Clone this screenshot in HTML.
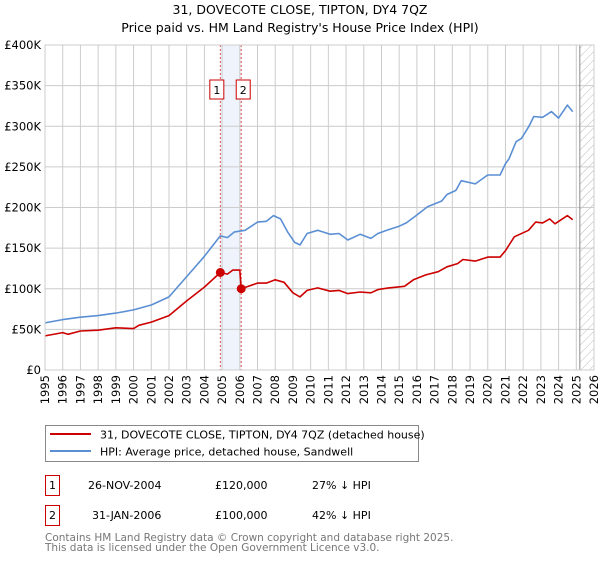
<!DOCTYPE html>
<html><head><meta charset="utf-8"><style>
body{margin:0;background:#fff;font-family:"DejaVu Sans","Liberation Sans",sans-serif}
svg text{font-family:"DejaVu Sans","Liberation Sans",sans-serif}
</style></head><body>
<svg id="chart" width="600" height="560" viewBox="0 0 600 560" xmlns="http://www.w3.org/2000/svg">
<defs><pattern id="hatch" width="6" height="6" patternUnits="userSpaceOnUse" patternTransform="rotate(45)"><line x1="0" y1="0" x2="0" y2="6" stroke="#bbb" stroke-width="1"/></pattern></defs>
<text x="300" y="14" text-anchor="middle" font-size="12.5" fill="#000">31, DOVECOTE CLOSE, TIPTON, DY4 7QZ</text>
<text x="300" y="32" text-anchor="middle" font-size="12.5" fill="#000">Price paid vs. HM Land Registry's House Price Index (HPI)</text>
<g id="grid"></g>
<g id="marks"></g>
<g id="axes"></g>
<g>
<rect x="45.5" y="425.5" width="373" height="36" fill="#fff" stroke="#888"/>
<line x1="50" y1="434" x2="91" y2="434" stroke="#cc0000" stroke-width="2"/>
<text x="100" y="438.5" font-size="11">31, DOVECOTE CLOSE, TIPTON, DY4 7QZ (detached house)</text>
<line x1="50" y1="451" x2="91" y2="451" stroke="#5b8fd4" stroke-width="2"/>
<text x="100" y="455.5" font-size="11">HPI: Average price, detached house, Sandwell</text>
</g>
<g>
<rect x="45.5" y="475.5" width="14" height="20" fill="#fff" stroke="#cc0000"/>
<text x="52.5" y="489" text-anchor="middle" font-size="11">1</text>
<text x="88" y="489" font-size="11">26-NOV-2004</text>
<text x="215" y="489" font-size="11">£120,000</text>
<text x="312" y="489" font-size="11">27% ↓ HPI</text>
<rect x="45.5" y="505.5" width="14" height="20" fill="#fff" stroke="#cc0000"/>
<text x="52.5" y="519" text-anchor="middle" font-size="11">2</text>
<text x="92" y="519" font-size="11">31-JAN-2006</text>
<text x="215" y="519" font-size="11">£100,000</text>
<text x="312" y="519" font-size="11">42% ↓ HPI</text>
</g>
<text x="45" y="541" font-size="10.5" fill="#777">Contains HM Land Registry data © Crown copyright and database right 2025.</text>
<text x="45" y="551" font-size="10.5" fill="#777">This data is licensed under the Open Government Licence v3.0.</text>
</svg>
<script>
const hpiYears=[1995,1996,1997,1998,1999,2000,2001,2002,2003,2004,2004.9,2005.3,2005.7,2006.3,2007,2007.5,2007.9,2008.3,2008.7,2009.1,2009.4,2009.8,2010.4,2011.1,2011.6,2012.1,2012.8,2013.4,2013.8,2014.3,2015,2015.4,2015.9,2016.6,2017.4,2017.7,2018.2,2018.5,2019.3,2020,2020.7,2021,2021.2,2021.6,2021.9,2022.3,2022.6,2023.1,2023.6,2024,2024.5,2024.8];
const hpiValues=[58,62,65,67,70,74,80,90,115,140,165,163,170,172,182,183,190,186,170,157,154,168,172,167,168,160,167,162,168,172,177,181,189,201,208,216,221,233,229,240,240,254,260,281,285,299,312,311,318,310,326,318];
const priceYears=[1995,1996,1996.3,1997,1998,1999,2000,2000.3,2001,2002,2003,2004,2004.9,2005.3,2005.6,2006.0,2006.08,2007,2007.5,2008,2008.5,2009,2009.4,2009.8,2010.4,2011.1,2011.6,2012.1,2012.8,2013.4,2013.8,2014.4,2015.3,2015.8,2016.5,2017.2,2017.7,2018.3,2018.6,2019.3,2020,2020.7,2021,2021.5,2022.3,2022.7,2023.1,2023.5,2023.8,2024.5,2024.8];
const priceValues=[42,46,44,48,49,52,51,55,59,67,85,102,120,118,123,123,100,107,107,111,108,95,90,98,101,97,98,94,96,95,99,101,103,111,117,121,127,131,136,134,139,139,147,164,172,182,181,186,180,190,185];
const saleYears=[2004.9,2006.08];
const saleValues=[120,100];
const saleLabels=["1","2"];
const yTicks=[0,50,100,150,200,250,300,350,400];
const yTickLabels=["£0","£50K","£100K","£150K","£200K","£250K","£300K","£350K","£400K"];
const xTicks=[1995,1996,1997,1998,1999,2000,2001,2002,2003,2004,2005,2006,2007,2008,2009,2010,2011,2012,2013,2014,2015,2016,2017,2018,2019,2020,2021,2022,2023,2024,2025,2026];
const dataEndYear=2025.2;

const X0=45,X1=594,Y0=370,Y1=45,YMIN=1995,YMAX=2026,VMAX=400;
const xs=y=>X0+(y-YMIN)/(YMAX-YMIN)*(X1-X0);
const ys=v=>Y0-v/VMAX*(Y0-Y1);
const NS="http://www.w3.org/2000/svg";
function mk(tag,attrs,parent){const e=document.createElementNS(NS,tag);for(const k in attrs)e.setAttribute(k,attrs[k]);parent.appendChild(e);return e;}
const grid=document.getElementById('grid'),marks=document.getElementById('marks'),axes=document.getElementById('axes');
// shade between sales
let sh=mk('rect',{x:xs(saleYears[0]),y:Y1,width:xs(saleYears[1])-xs(saleYears[0]),height:Y0-Y1,fill:'#eef3fc'},grid);


// hatch future
let ht=mk('rect',{x:xs(dataEndYear),y:Y1,width:X1-xs(dataEndYear),height:Y0-Y1,fill:'url(#hatch)'},grid);


xTicks.forEach(t=>{
  const l=mk('line',{x1:xs(t),x2:xs(t),y1:Y1,y2:Y0,stroke:'#ccc','stroke-width':1},grid);
  
  
  const tx=mk('text',{x:0,y:0,'font-size':11.5,'text-anchor':'end',transform:`translate(${xs(t)+4},${Y0+5}) rotate(-90)`},axes);
  tx.textContent=t;
  
  
});
yTicks.forEach((t,i)=>{
  const l=mk('line',{x1:X0,x2:X1,y1:ys(t),y2:ys(t),stroke:'#ccc','stroke-width':1},grid);
  
  
  const tx=mk('text',{x:X0-4,y:ys(t)+4,'font-size':11.5,'text-anchor':'end'},axes);
  tx.textContent=yTickLabels[i];
  
  
});
let de=mk('line',{x1:xs(dataEndYear),x2:xs(dataEndYear),y1:Y1,y2:Y0,stroke:'#888','stroke-width':1},grid);


saleYears.forEach((s,i)=>{
  const l=mk('line',{x1:xs(s),x2:xs(s),y1:Y1,y2:Y0,stroke:'#e05050','stroke-width':1,'stroke-dasharray':'2,2'},grid);
  
  
});
function path(xa,va,color,name){
  const d=xa.map((y,i)=>(i?'L':'M')+xs(y).toFixed(1)+','+ys(va[i]).toFixed(1)).join('');
  const p=mk('path',{d:d,fill:'none',stroke:color,'stroke-width':1.6,'stroke-linejoin':'round'},marks);
  
  
}
path(hpiYears,hpiValues,'#5b8fd4','hpi-line');
path(priceYears,priceValues,'#cc0000','price-paid-line');
saleYears.forEach((s,i)=>{
  const c=mk('circle',{cx:xs(s),cy:ys(saleValues[i]),r:4.5,fill:'#cc0000'},marks);
  
  
  const bx=xs(s)+(i===0?-10.5:-5);
  const r=mk('rect',{x:bx,y:80,width:14,height:19,fill:'#fff',stroke:'#cc0000'},marks);
  
  
  const t=mk('text',{x:bx+7,y:94,'font-size':11,'text-anchor':'middle'},marks);
  t.textContent=saleLabels[i];
  
  
});
let fr=mk('rect',{x:X0,y:Y1,width:X1-X0,height:Y0-Y1,fill:'none',stroke:'#ccc'},axes);


</script>
</body></html>
